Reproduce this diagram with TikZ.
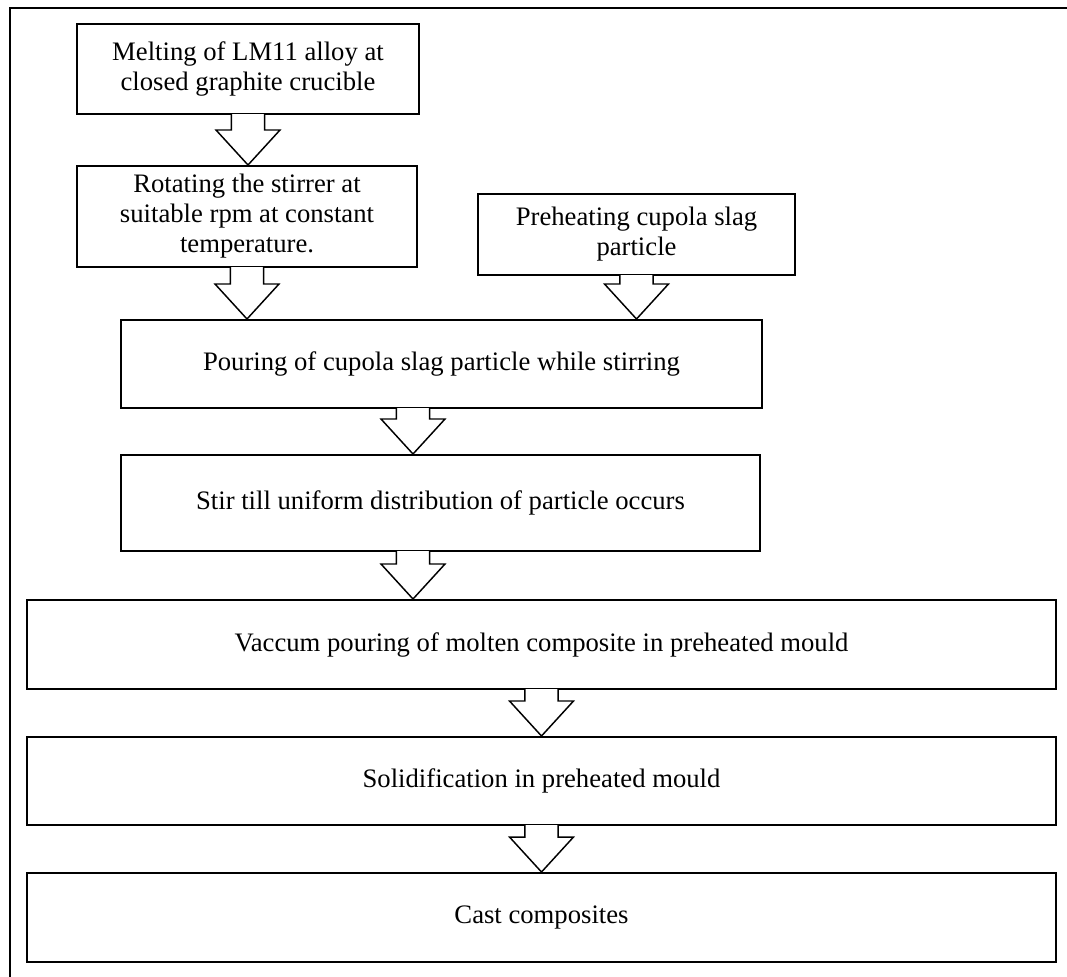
\documentclass[tikz,border=0pt]{standalone}
\usepackage{fontspec}
\setmainfont{Liberation Serif}
\usetikzlibrary{calc}
\usetikzlibrary{positioning}

\newcommand{\blockarrow}[3][0]{%
  \filldraw[blockarr] let \p1=($(#2.south)+(#1,0)$), \p2=($(#3.north)+(#1,0)$) in
    (\x1-12.4pt,\y1+0.75pt) -- (\x1-12.4pt,\y2+26.25pt) -- (\x1-24pt,\y2+26.25pt)
    -- (\x1,\y2) -- (\x1+24pt,\y2+26.25pt) -- (\x1+12.4pt,\y2+26.25pt)
    -- (\x1+12.4pt,\y1+0.75pt);}

\begin{document}
\begin{tikzpicture}[x=0.75pt,y=-0.75pt,
    stage/.style={draw,line width=1.5pt,align=center,inner sep=0pt,
      font=\fontsize{20pt}{22.5pt}\selectfont},
    blockarr/.style={draw=black,fill=white,line width=1.1pt,line join=miter}]
			\useasboundingbox (0,0) rectangle (1067,976);
			\clip (0,0) rectangle (1067,976);
			\draw[line width=2.2pt] (10,8) rectangle (1090,1000);
			
			\node[stage,minimum width=342*0.75pt,minimum height=90*0.75pt] (melt) at (248,69) {Melting of LM11 alloy at\\closed graphite crucible};
			\node[stage,minimum width=340*0.75pt,minimum height=101*0.75pt] (rotate) at (247,216.5) {Rotating the stirrer at\\suitable rpm at constant\\temperature.};
			\node[stage,minimum width=317*0.75pt,minimum height=81*0.75pt] (preheat) at (636.5,234.5) {Preheating cupola slag\\particle};
			\node[stage,minimum width=641*0.75pt,minimum height=88*0.75pt] (pour) at (441.5,364) {Pouring of cupola slag particle while stirring};
			\node[stage,minimum width=639*0.75pt,minimum height=96*0.75pt] (stir) at (440.5,503) {Stir till uniform distribution of particle occurs};
			\node[stage,minimum width=1029*0.75pt,minimum height=89*0.75pt] (vacuum) at (541.5,644.5) {Vaccum pouring of molten composite in preheated mould};
			\node[stage,minimum width=1029*0.75pt,minimum height=88*0.75pt] (solid) at (541.5,781) {Solidification in preheated mould};
			\node[stage,minimum width=1029*0.75pt,minimum height=89*0.75pt] (cast) at (541.5,917.5) {Cast composites};
			
			\blockarrow{melt}{rotate}
			\blockarrow{rotate}{pour}
			\blockarrow{preheat}{pour}
			\blockarrow[-28.5]{pour}{stir}
			\blockarrow[-27.5]{stir}{vacuum}
			\blockarrow{vacuum}{solid}
			\blockarrow{solid}{cast}
		\end{tikzpicture}
\end{document}
